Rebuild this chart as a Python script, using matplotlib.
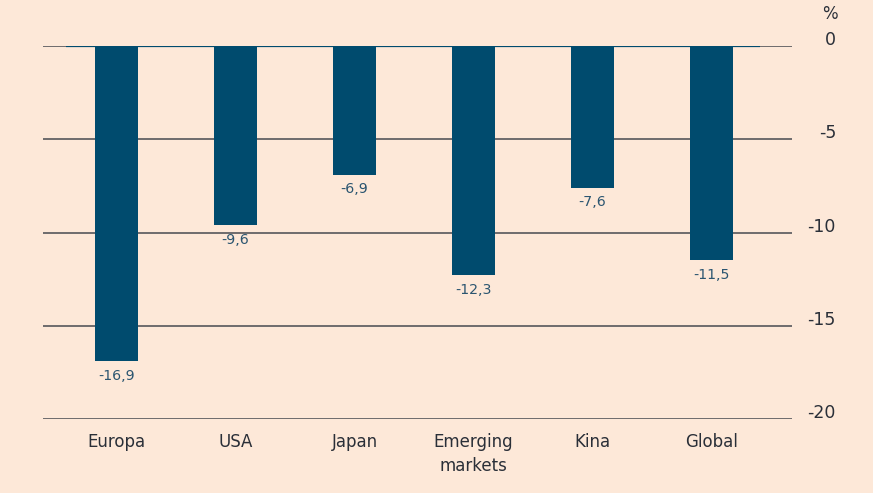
import matplotlib
matplotlib.use("Agg")
import matplotlib.pyplot as plt
import matplotlib.transforms as mtransforms
import numpy as np

plt.rcParams['font.family'] = ['DejaVu Sans']

categories = ["Europa", "USA", "Japan", "Emerging\nmarkets", "Kina", "Global"]
values = [-16.9, -9.6, -6.9, -12.3, -7.6, -11.5]
yticks = [0, -5, -10, -15, -20]

bg = "#fde8d8"
navy = "#004b6e"
grid = "#55565a"
txt = "#2a2f38"

fig = plt.figure(figsize=(8.73, 4.93), dpi=100, facecolor=bg)
ax = fig.add_axes([43/873, 1-419/493, (792-43)/873, (419-46)/493])
ax.set_facecolor(bg)

x = np.arange(len(categories))

# grid lines first, bars on top
for t in yticks:
    ax.axhline(t, color=grid, lw=1.2, zorder=1)
ax.bar(x, values, width=0.36, color=navy, zorder=2)
ax.hlines(0, -0.43, 5.41, color=navy, lw=1.6, zorder=3)

for xi, v in zip(x, values):
    ax.text(xi, v - 0.4, ("%.1f" % v).replace(".", ","), ha="center", va="top",
            fontsize=10.2, color="#2b5570", zorder=4)

ax.set_xlim(-0.62, 5.68)
ax.set_ylim(-20, 0)
ax.set_xticks(x)
ax.set_xticklabels(categories, fontsize=12, color=txt, linespacing=1.45)
ax.tick_params(axis="x", length=0, pad=10)
ax.set_yticks([])

# y labels on the right, sitting a little above their lines
trans = mtransforms.blended_transform_factory(ax.transAxes, ax.transData)
trans = mtransforms.offset_copy(trans, fig=fig, x=0, y=6, units="dots")
for t in yticks:
    ax.text(1 + 44/749, t, str(t), transform=trans, ha="right", va="center",
            fontsize=12.5, color=txt, clip_on=False)

for s in ax.spines.values():
    s.set_visible(False)

ax.text(830/873, 1-14/493, "%", transform=fig.transFigure, ha="center", va="center",
        fontsize=12, color=txt)

fig.savefig("out.png", dpi=100, facecolor=bg)
